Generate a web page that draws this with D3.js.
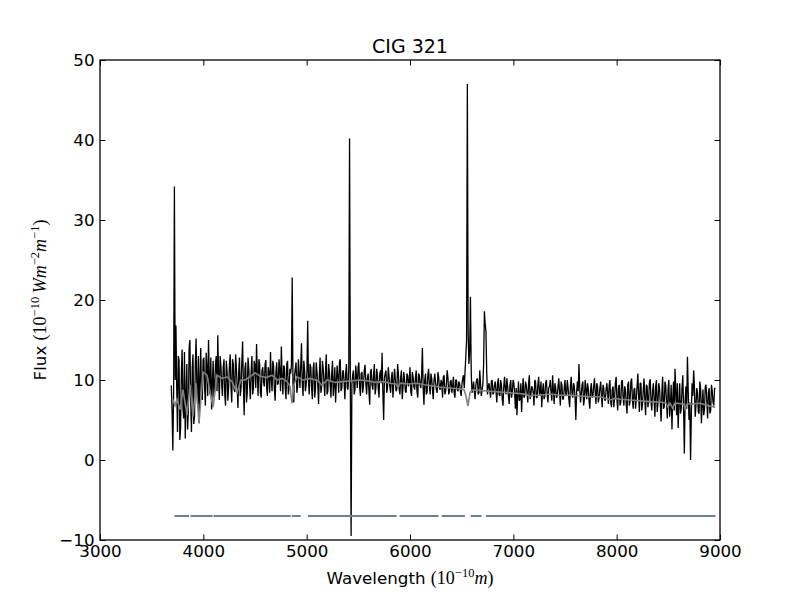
<!DOCTYPE html>
<html>
<head>
<meta charset="utf-8">
<script src="https://cdn.jsdelivr.net/npm/d3@7"></script>
<style>
  body { margin: 0; background: #fff; }
  text { font-family: "DejaVu Sans", sans-serif; }
</style>
</head>
<body>
<script>
// observed spectrum: samples every 15 A from 3690 A (fluxEven),
// plus the samples half a step later (fluxOdd)
var waveStart = 3690, waveStep = 15;
var fluxEven = [
  9.3, 1.2, 34.2, 16.8, 3.5, 12.5, 4.0, 13.8, 5.2, 2.7, 12.0, 6.0, 15.0, 3.5, 13.2, 5.5, 15.2, 7.0, 4.6, 14.0, 7.5,
  12.8, 6.8, 11.5, 15.0, 8.2, 6.3, 12.4, 9.0, 13.0, 15.6, 7.5, 11.8, 8.0, 12.6, 6.8, 11.0, 9.2, 13.2, 7.2, 12.0,
  8.5, 11.5, 6.5, 12.8, 9.0, 14.8, 5.6, 12.2, 8.4, 11.4, 7.6, 13.0, 9.0, 11.8, 14.5, 8.0, 12.0, 7.8, 11.6, 9.2,
  12.5, 8.0, 11.0, 13.5, 8.6, 11.8, 7.4, 12.2, 9.6, 11.2, 14.2, 8.2, 11.6, 7.6, 12.4, 9.0, 10.8, 22.8, 7.2, 11.4,
  8.4, 12.6, 9.0, 14.6, 8.0, 11.2, 9.4, 17.4, 8.2, 11.6, 7.6, 12.2, 8.8, 11.0, 7.0, 12.8, 9.2, 11.4, 8.0, 13.2,
  8.6, 11.0, 7.8, 12.4, 9.4, 7.2, 11.8, 8.4, 12.6, 9.0, 11.2, 7.6, 12.0, 8.8, 40.2, -9.5,
  10.6, 8.2, 11.8, 9.0, 12.2, 8.0, 11.0, 9.4, 11.9, 8.2, 10.8, 6.9, 11.4, 8.8, 12.0, 9.0, 10.6, 7.8, 11.2, 13.4,
  5.0, 10.8, 8.4, 11.6, 9.2, 10.2, 7.8, 11.4, 8.6, 12.0, 9.0, 10.4, 7.6, 11.0, 8.6, 10.8, 9.2, 11.6, 8.0, 10.4,
  8.8, 11.2, 7.8, 10.6, 9.0, 14.0, 6.9, 10.8, 8.4, 11.4, 8.2, 10.2, 7.6, 10.8, 8.8, 11.0, 9.0, 10.0, 7.8, 10.6,
  8.6, 11.2, 8.2, 9.8, 8.4, 10.4, 7.8, 10.0, 8.6, 9.6, 8.0, 10.2, 9.0, 12.9, 47.0, 12.0, 20.4, 8.4, 9.8, 7.6,
  10.0, 8.2, 11.2, 8.0, 9.4, 18.6, 16.1, 8.2, 9.6, 7.8, 10.0, 8.4,
  9.8, 7.2, 10.2, 8.0, 9.4, 6.8, 10.4, 8.2, 9.2, 7.0, 10.0, 8.4, 9.6, 6.4, 5.6, 9.8, 7.6, 6.0, 10.2, 8.0,
  9.4, 7.2, 10.6, 8.2, 9.0, 6.8, 9.8, 7.8, 10.4, 8.4, 6.6, 9.6, 8.0, 10.0, 7.2, 9.2, 8.4, 10.6, 7.0, 9.0,
  8.0, 10.2, 6.8, 9.4, 7.6, 10.0, 8.2, 9.0, 6.6, 10.4, 7.8, 9.2, 5.0, 9.8, 12.0, 7.2, 9.4, 6.8, 10.0, 7.6,
  9.0, 6.4, 9.6, 8.0, 10.2, 7.0, 9.2, 7.8, 9.8, 6.6, 9.0, 7.4,
  9.6, 7.0, 10.0, 6.6, 9.2, 7.8, 10.4, 6.2, 9.4, 7.2, 10.0, 6.8, 8.8, 5.8, 9.8, 7.4, 10.2, 6.4, 9.0, 7.6,
  10.8, 6.0, 9.6, 7.0, 10.2, 5.6, 9.2, 7.4, 10.1, 6.2, 9.6, 5.4, 10.0, 7.2, 9.0, 4.8, 10.4, 6.6, 9.4, 5.2,
  10.0, 6.8, 3.8, 9.8, 11.4, 5.6, 4.0, 9.6, 6.4, 10.6, 0.8, 9.2, 12.9, 5.0, 0.0, 9.6, 11.2, 5.4, 9.0, 6.0,
  9.8, 4.6, 8.8, 6.4, 9.4, 5.2, 9.0, 6.2, 8.6, 6.8, 8.9
];
var fluxOdd = [
  6.0, 8.5, 10.0, 9.0, 13.0, 2.5, 11.0, 6.5, 13.5, 8.0, 3.8, 14.0, 7.5, 11.5, 4.5, 12.0, 9.0, 13.0, 10.0, 8.0, 12.5,
  9.0, 13.4, 8.0, 10.6, 12.8, 9.6, 7.8, 12.0, 8.6, 10.4, 13.0, 9.4, 11.6, 8.2, 12.4, 7.4, 11.8, 9.0, 12.6, 8.8,
  13.2, 9.2, 11.0, 8.0, 12.2, 9.6, 11.4, 7.2, 12.8, 9.4, 11.0, 8.2, 12.4, 9.0, 10.8, 12.6, 8.4, 11.2, 9.8, 12.0,
  9.0, 11.6, 8.4, 10.2, 12.4, 8.8, 11.0, 9.4, 12.6, 8.6, 10.4, 11.8, 9.0, 12.0, 8.2, 11.4, 11.8, 9.6, 10.6, 12.2,
  9.2, 10.8, 11.8, 9.6, 12.4, 8.6, 11.0, 9.8, 12.0, 9.0, 11.4, 7.8, 12.2, 9.4, 10.6, 8.4, 12.4, 9.8, 11.2, 8.2,
  12.0, 9.4, 10.8, 8.0, 11.6, 9.8, 10.4, 12.2, 8.6, 11.0, 9.6, 10.8, 9.0, 11.4, 10.0,
  9.4, 11.2, 8.8, 10.4, 11.6, 9.2, 10.8, 8.4, 11.2, 9.6, 10.2, 8.6, 11.0, 9.4, 10.6, 8.2, 11.4, 9.0, 10.8, 9.6,
  8.4, 10.2, 11.2, 9.0, 10.4, 8.4, 11.0, 9.6, 10.2, 8.8, 10.8, 8.2, 11.2, 9.2, 10.0, 8.4, 10.6, 9.8, 8.6, 11.0,
  9.2, 10.2, 8.6, 10.8, 9.4, 10.6, 9.0, 10.0, 8.2, 10.6, 9.4, 10.8, 8.8, 10.0, 9.6, 8.4, 10.4, 8.8, 9.8, 10.4,
  8.2, 9.6, 10.2, 8.6, 10.0, 9.2, 8.4, 10.0, 8.8, 9.8, 8.6, 9.4, 10.6, 11.0, 15.0, 16.0, 13.5, 11.0, 9.0, 8.6,
  9.4, 10.2, 8.4, 9.6, 8.8, 12.0, 17.0, 11.0, 9.2, 8.6, 9.8, 8.2, 9.4,
  8.6, 9.6, 8.2, 10.0, 7.6, 9.2, 8.8, 10.2, 8.0, 9.4, 7.8, 10.0, 8.4, 9.0, 8.0, 7.4, 9.6, 8.6, 7.8, 9.8,
  8.4, 9.6, 7.6, 9.2, 8.4, 10.0, 7.8, 9.4, 8.2, 9.8, 8.6, 7.6, 9.6, 8.2, 9.0, 10.0, 7.4, 8.8, 9.6, 7.8,
  9.2, 8.4, 9.8, 7.6, 9.0, 8.0, 10.0, 7.6, 9.2, 8.4, 9.6, 7.8, 8.4, 8.6, 9.0, 8.2, 9.8, 7.6, 8.8, 9.6,
  7.4, 8.8, 7.8, 9.2, 8.4, 9.6, 7.2, 9.0, 8.0, 9.4, 7.6, 8.8,
  8.4, 9.4, 7.2, 8.8, 6.6, 9.6, 7.6, 9.0, 6.8, 9.8, 7.8, 9.2, 7.0, 9.4, 6.8, 9.8, 7.6, 8.8, 6.4, 9.2,
  8.0, 9.6, 6.2, 8.8, 7.6, 9.4, 6.6, 9.8, 7.2, 8.6, 7.6, 9.2, 6.0, 9.6, 7.0, 8.4, 6.4, 9.8, 7.2, 8.8,
  5.4, 9.4, 7.6, 6.2, 8.6, 9.6, 7.0, 5.8, 9.0, 6.6, 7.4, 6.4, 8.6, 7.2, 5.6, 8.0, 9.2, 6.8, 8.4, 5.8,
  9.0, 6.8, 5.6, 9.2, 7.4, 8.4, 5.8, 9.4, 7.2, 9.0
];

// fitted model (grey line)
var modelWave = [3697, 3726, 3745, 3774, 3803, 3842, 3871, 3900, 3929, 3958, 3997, 4035, 4094, 4132, 4181, 4229,
  4277, 4326, 4364, 4403, 4452, 4500, 4548, 4606, 4665, 4713, 4761, 4810, 4839, 4858, 4877, 4906, 4964, 5032,
  5110, 5148, 5197, 5274, 5352, 5439, 5516, 5584, 5661, 5739, 5806, 5864, 5884, 5903, 5981, 6068, 6145, 6223,
  6300, 6387, 6464, 6522, 6542, 6561, 6580, 6600, 6677, 6774, 6871, 6968, 7064, 7132, 7161, 7190, 7258, 7355,
  7452, 7548, 7645, 7742, 7839, 7897, 7935, 7984, 8032, 8129, 8226, 8323, 8419, 8477, 8497, 8516, 8541, 8565,
  8652, 8662, 8681, 8729, 8806, 8884, 8955];
var modelFlux = [7.8, 6.8, 7.6, 6.3, 8.8, 5.6, 9.4, 5.4, 9.6, 4.6, 11.0, 10.6, 6.6, 10.6, 10.2, 10.4,
  9.8, 8.4, 10.0, 10.0, 10.4, 10.9, 10.5, 10.3, 10.6, 10.0, 10.2, 9.8, 9.2, 7.1, 9.4, 10.4, 10.0, 10.2,
  9.9, 9.3, 10.0, 9.7, 9.8, 9.9, 10.0, 9.9, 9.7, 9.8, 9.6, 9.5, 9.0, 9.6, 9.5, 9.6, 9.4, 9.25,
  9.1, 9.0, 8.9, 8.8, 8.0, 6.75, 8.4, 8.75, 8.7, 8.6, 8.5, 8.4, 8.3, 8.2, 7.9, 8.1, 8.1, 8.25,
  8.1, 8.1, 8.0, 7.9, 7.9, 7.7, 7.5, 7.7, 7.6, 7.5, 7.4, 7.3, 7.25, 7.1, 6.6, 7.1, 6.5, 7.1,
  7.0, 6.4, 7.0, 7.0, 7.1, 6.8, 6.6];

// masked wavelength ranges
var maskStart = [3721, 3876, 4100, 4856, 5013, 5899, 6307, 6587, 6735];
var maskEnd   = [3861, 4090, 4845, 4943, 5871, 6275, 6531, 6692, 8955];
var maskLevel = -7;

var xTicks = [3000, 4000, 5000, 6000, 7000, 8000, 9000];
var yTicks = [-10, 0, 10, 20, 30, 40, 50];

var margin = {top: 60, right: 80, bottom: 60, left: 100},
    width = 800 - margin.left - margin.right,
    height = 600 - margin.top - margin.bottom;

var x = d3.scaleLinear().domain([3000, 9000]).range([0, width]);
var y = d3.scaleLinear().domain([-10, 50]).range([height, 0]);

var svg = d3.select("body").append("svg")
    .attr("width", 800)
    .attr("height", 600)
  .append("g")
    .attr("transform", "translate(" + margin.left + "," + margin.top + ")");

svg.append("clipPath").attr("id", "clip")
  .append("rect").attr("width", width).attr("height", height);

var spectrum = [];
fluxEven.forEach(function(d, i) {
  spectrum.push([waveStart + i * waveStep, d]);
  if (i < fluxOdd.length) spectrum.push([waveStart + waveStep / 2 + i * waveStep, fluxOdd[i]]);
});
var model = modelWave.map(function(d, i) { return [d, modelFlux[i]]; });

var line = d3.line()
    .x(function(d) { return x(d[0]); })
    .y(function(d) { return y(d[1]); });

var plot = svg.append("g").attr("clip-path", "url(#clip)");

plot.append("path")
    .datum(spectrum)
    .attr("fill", "none")
    .attr("stroke", "#000")
    .attr("stroke-width", 1.3)
    .attr("stroke-linejoin", "bevel")
    .attr("d", line);

plot.append("path")
    .datum(model)
    .attr("fill", "none")
    .attr("stroke", "#808080")
    .attr("stroke-width", 1.6)
    .attr("d", line);

plot.selectAll("line.mask")
  .data(maskStart)
  .enter().append("line")
    .attr("class", "mask")
    .attr("x1", function(d) { return x(d); })
    .attr("x2", function(d, i) { return x(maskEnd[i]); })
    .attr("y1", y(maskLevel))
    .attr("y2", y(maskLevel))
    .attr("stroke", "#6f7f88")
    .attr("stroke-width", 2);

// axes, matplotlib classic look: ticks inside on all four sides
function styleAxis(g) {
  g.select(".domain").remove();
  g.selectAll(".tick line").attr("stroke", "#000").attr("stroke-width", 1);
  g.selectAll(".tick text").attr("fill", "#000")
    .style("font-size", "16.7px")
    .style("font-family", "DejaVu Sans, sans-serif");
}

svg.append("g")
    .attr("transform", "translate(0," + height + ")")
    .call(d3.axisBottom(x).tickValues(xTicks).tickFormat(d3.format("d")).tickSizeInner(-5.5).tickPadding(5.5))
    .call(styleAxis);
svg.append("g")
    .call(d3.axisTop(x).tickValues(xTicks).tickFormat("").tickSizeInner(-5.5))
    .call(styleAxis);
svg.append("g")
    .call(d3.axisLeft(y).tickValues(yTicks).tickFormat(function(d) { return d < 0 ? "\u2212" + Math.abs(d) : d; })
      .tickSizeInner(-5.5).tickPadding(5.5))
    .call(styleAxis);
svg.append("g")
    .attr("transform", "translate(" + width + ",0)")
    .call(d3.axisRight(y).tickValues(yTicks).tickFormat("").tickSizeInner(-5.5))
    .call(styleAxis);

svg.append("rect")
    .attr("width", width)
    .attr("height", height)
    .attr("fill", "none")
    .attr("stroke", "#000")
    .attr("stroke-width", 1.3);

// title
svg.append("text")
    .attr("x", width / 2)
    .attr("y", -7)
    .attr("text-anchor", "middle")
    .style("font-size", "19px")
    .text("CIG 321");

// label helper for mathtext-ish pieces
function addMath(t, parts) {
  parts.forEach(function(p) {
    var ts = t.append("tspan").text(p.s);
    if (p.serif) ts.style("font-family", "Liberation Serif, serif").style("font-size", "18px");
    if (p.it) ts.style("font-style", "italic");
    if (p.sup) ts.style("font-size", "12.5px");
    if (p.dy) ts.attr("dy", p.dy);
  });
}

var xl = svg.append("text")
    .attr("x", width / 2)
    .attr("y", height + 44)
    .attr("text-anchor", "middle")
    .style("font-size", "16.7px");
addMath(xl, [
  {s: "Wavelength "},
  {s: "(10", serif: true},
  {s: "\u221210", serif: true, sup: true, dy: "-0.6em"},
  {s: "m", serif: true, it: true, dy: "0.42em"},
  {s: ")", serif: true}
]);

var yl = svg.append("text")
    .attr("transform", "translate(-54," + (height / 2) + ") rotate(-90)")
    .attr("text-anchor", "middle")
    .style("font-size", "16.7px");
addMath(yl, [
  {s: "Flux "},
  {s: "(10", serif: true},
  {s: "\u221210", serif: true, sup: true, dy: "-0.6em"},
  {s: "\u2009W", serif: true, it: true, dy: "0.42em"},
  {s: "m", serif: true, it: true},
  {s: "\u22122", serif: true, sup: true, dy: "-0.6em"},
  {s: "m", serif: true, it: true, dy: "0.42em"},
  {s: "\u22121", serif: true, sup: true, dy: "-0.6em"},
  {s: ")", serif: true, dy: "0.42em"}
]);
</script>
</body>
</html>
